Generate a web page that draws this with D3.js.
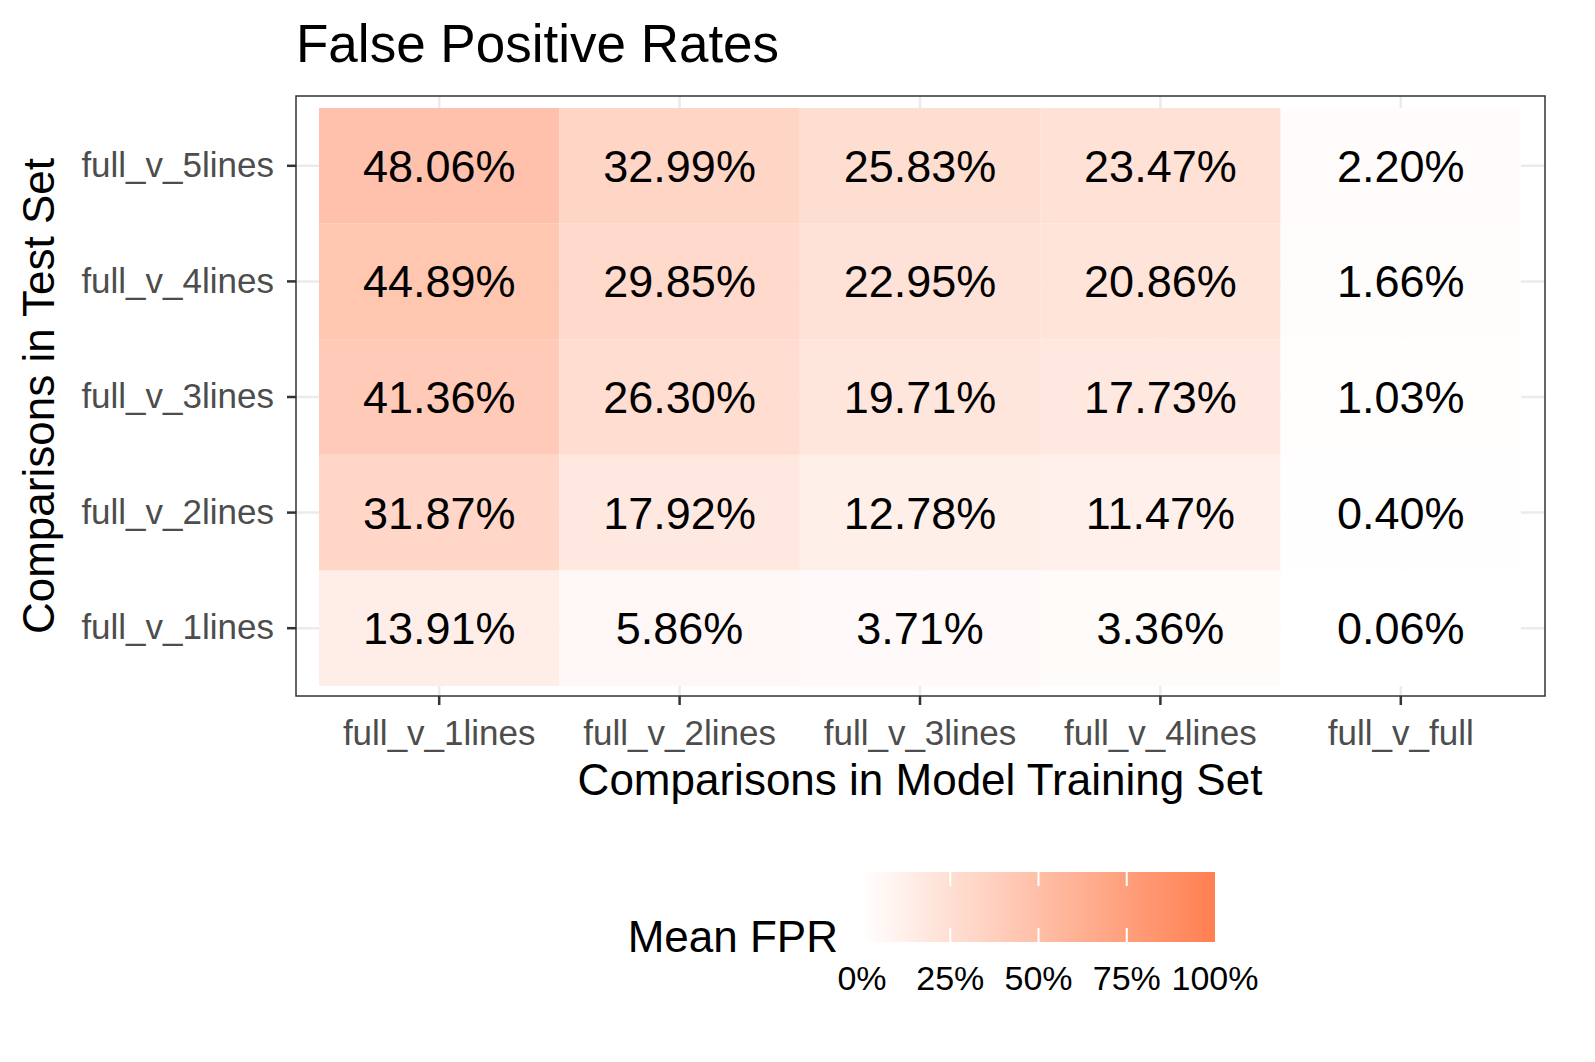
<!DOCTYPE html>
<html><head><meta charset="utf-8">
<script src="https://cdn.jsdelivr.net/npm/d3@7"></script>
<style>body{margin:0;background:#fff;font-family:"Liberation Sans",Arial,sans-serif}</style>
</head><body><svg id="chart" width="1595" height="1062"></svg>
<script>
const trainSets = ["full_v_1lines","full_v_2lines","full_v_3lines","full_v_4lines","full_v_full"];
const testSets = ["full_v_1lines","full_v_2lines","full_v_3lines","full_v_4lines","full_v_5lines"];
// fpr[testIndex][trainIndex]
const fpr = [
  [13.91, 5.86, 3.71, 3.36, 0.06],
  [31.87, 17.92, 12.78, 11.47, 0.40],
  [41.36, 26.30, 19.71, 17.73, 1.03],
  [44.89, 29.85, 22.95, 20.86, 1.66],
  [48.06, 32.99, 25.83, 23.47, 2.20]
];
const legendTicks = [0, 25, 50, 75, 100];

const svg = d3.select("#chart");
const panel = {left: 296, right: 1545, top: 96, bottom: 696};
const x = d3.scaleBand().domain(trainSets).range([319, 1521]);
const y = d3.scaleBand().domain(testSets).range([686, 108]);
const color = d3.scaleLinear().domain([0, 100]).range(["#ffffff", "#ff7f50"]);

// grid
const g = svg.append("g");
trainSets.forEach(t => g.append("line").attr("x1", x(t) + x.bandwidth()/2).attr("x2", x(t) + x.bandwidth()/2)
  .attr("y1", panel.top).attr("y2", panel.bottom).attr("stroke", "#ebebeb").attr("stroke-width", 2.5));
testSets.forEach(t => g.append("line").attr("y1", y(t) + y.bandwidth()/2).attr("y2", y(t) + y.bandwidth()/2)
  .attr("x1", panel.left).attr("x2", panel.right).attr("stroke", "#ebebeb").attr("stroke-width", 2.5));

const cells = [];
fpr.forEach((row, i) => row.forEach((v, j) => cells.push({test: testSets[i], train: trainSets[j], v})));
svg.append("g").selectAll("rect").data(cells).join("rect")
  .attr("x", d => x(d.train)).attr("y", d => y(d.test))
  .attr("width", x.bandwidth()).attr("height", y.bandwidth())
  .attr("fill", d => color(d.v));
svg.append("g").selectAll("text").data(cells).join("text")
  .attr("x", d => x(d.train) + x.bandwidth()/2).attr("y", d => y(d.test) + y.bandwidth()/2 + 16)
  .attr("text-anchor", "middle").attr("font-size", 45).attr("fill", "#000")
  .text(d => d.v.toFixed(2) + "%");

svg.append("rect").attr("x", panel.left).attr("y", panel.top)
  .attr("width", panel.right - panel.left).attr("height", panel.bottom - panel.top)
  .attr("fill", "none").attr("stroke", "#333").attr("stroke-width", 1.5);

// axes
const xa = svg.append("g").attr("transform", `translate(0,${panel.bottom})`)
  .call(d3.axisBottom(x).tickSize(9).tickPadding(10));
const ya = svg.append("g").attr("transform", `translate(${panel.left},0)`)
  .call(d3.axisLeft(y).tickSize(9).tickPadding(13));
[xa, ya].forEach(a => {
  a.select(".domain").remove();
  a.selectAll("line").attr("stroke", "#333").attr("stroke-width", 2.5);
  a.selectAll("text").attr("font-size", 35).attr("fill", "#4d4d4d").attr("font-family", "Liberation Sans, Arial, sans-serif");
});
xa.selectAll("text").attr("dy", "0.85em");

svg.append("text").attr("x", 920).attr("y", 795).attr("text-anchor", "middle").attr("font-size", 44).text("Comparisons in Model Training Set");
svg.append("text").attr("transform", "translate(54,396) rotate(-90)").attr("text-anchor", "middle").attr("font-size", 44).text("Comparisons in Test Set");
svg.append("text").attr("x", 296).attr("y", 62).attr("font-size", 53).text("False Positive Rates");

// legend
const lx = d3.scaleLinear().domain([0, 100]).range([862, 1215]);
const defs = svg.append("defs");
const grad = defs.append("linearGradient").attr("id", "lg");
grad.append("stop").attr("offset", "0%").attr("stop-color", color(0));
grad.append("stop").attr("offset", "100%").attr("stop-color", color(100));
svg.append("rect").attr("x", lx(0)).attr("y", 872).attr("width", lx(100) - lx(0)).attr("height", 70).attr("fill", "url(#lg)");
legendTicks.forEach(t => {
  if (t > 0 && t < 100) {
    svg.append("line").attr("x1", lx(t)).attr("x2", lx(t)).attr("y1", 872).attr("y2", 886).attr("stroke", "#fff").attr("stroke-width", 2);
    svg.append("line").attr("x1", lx(t)).attr("x2", lx(t)).attr("y1", 928).attr("y2", 942).attr("stroke", "#fff").attr("stroke-width", 2);
  }
  svg.append("text").attr("x", lx(t)).attr("y", 990).attr("text-anchor", "middle").attr("font-size", 34).text(t + "%");
});
svg.append("text").attr("x", 838).attr("y", 952).attr("text-anchor", "end").attr("font-size", 44).text("Mean FPR");
</script></body></html>
